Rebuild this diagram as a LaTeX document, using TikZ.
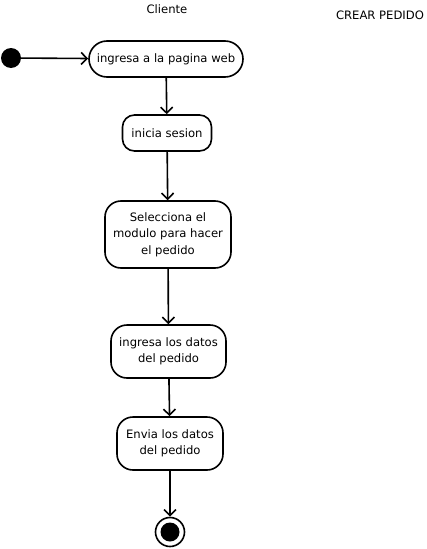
\documentclass[tikz,border=0pt]{standalone}
\usepackage{fontspec}
\setmainfont{DejaVu Sans}
\usetikzlibrary{arrows.meta}
\begin{document}
\begin{tikzpicture}[x=1pt,y=-1pt,
  act/.style={draw, line width=1.6pt, rounded corners=12pt, align=center, font=\fontsize{11.6}{16.5}\selectfont, inner sep=0pt},
  flow/.style={line width=1.6pt, -{Straight Barb[length=6pt,width=12pt,line width=1.6pt]}},
  lbl/.style={font=\fontsize{11.6}{14}\selectfont}]
\useasboundingbox (0,0) rectangle (426,549);
\node[lbl] (cl) at (167,9) {Cliente};
\node[lbl] (cp) at (380,15) {CREAR PEDIDO};
\node[circle, fill=black, minimum size=20pt, inner sep=0pt] (start) at (11,58) {};
\node[act, minimum width=154pt, minimum height=36pt, rounded corners=18pt] (a1) at (166,59) {ingresa a la pagina web};
\node[act, minimum width=89pt, minimum height=36pt] (a2) at (167,133) {inicia sesion};
\node[act, minimum width=126pt, minimum height=67pt, rounded corners=16pt] (a3) at (168,234.5) {Selecciona el\\modulo para hacer\\el pedido};
\node[act, minimum width=115pt, minimum height=53pt, rounded corners=16pt] (a4) at (168.5,351.5) {ingresa los datos\\del pedido};
\node[act, minimum width=106pt, minimum height=53pt, rounded corners=16pt] (a5) at (170,443.5) {Envia los datos\\del pedido};
\node[circle, draw, line width=1.6pt, minimum size=29pt, inner sep=0pt] (end) at (170,532) {};
\node[circle, fill=black, minimum size=19pt, inner sep=0pt] (endin) at (170,532) {};
\draw[flow] (start) -- (a1);
\draw[flow] (a1) -- (a2);
\draw[flow] (a2) -- (a3);
\draw[flow] (a3) -- (a4);
\draw[flow] (a4) -- (a5);
\draw[flow] (a5) -- (end);
\end{tikzpicture}
\end{document}
